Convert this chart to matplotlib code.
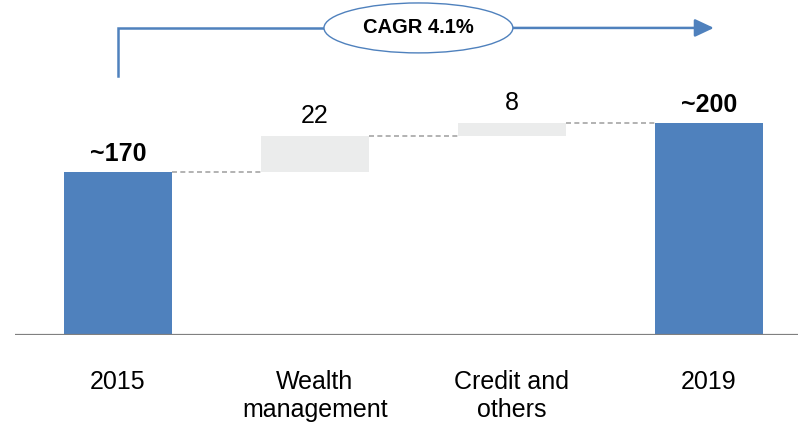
import matplotlib
matplotlib.use("Agg")
import matplotlib.pyplot as plt
from matplotlib.patches import Ellipse

plt.rcParams['font.family'] = ['Liberation Sans', 'DejaVu Sans']

categories = ["2015", "Wealth\nmanagement", "Credit and\nothers", "2019"]
values = [170, 22, 8, 200]
value_labels = ["~170", "22", "8", "~200"]
kinds = ["total", "delta", "delta", "total"]
cagr_label = "CAGR 4.1%"

BLUE = "#4F81BD"
GREY_BAR = "#EBECEC"
DASH = "#A6A6A6"

fig = plt.figure(figsize=(7.98, 4.26), dpi=100)
ax = fig.add_axes([15 / 798, (426 - 335) / 426, 783 / 798, 335 / 426])

y0 = 71
width = 0.55
x = list(range(len(categories)))

bottoms, heights, colors = [], [], []
running = 0
for v, k in zip(values, kinds):
    if k == "total":
        bottoms.append(y0)
        heights.append(v - y0)
        colors.append(BLUE)
        running = v
    else:
        bottoms.append(running)
        heights.append(v)
        colors.append(GREY_BAR)
        running += v

ax.bar(x, heights, bottom=bottoms, width=width, color=colors, zorder=2)

# connectors
for i in range(len(x) - 1):
    level = bottoms[i] + heights[i]
    ax.plot([x[i] + width / 2, x[i + 1] - width / 2], [level, level],
            color=DASH, lw=1.2, ls=(0, (3, 2)), zorder=1)

# value labels
for i, (lab, k) in enumerate(zip(value_labels, kinds)):
    top = bottoms[i] + heights[i]
    bold = k == "total"
    ax.annotate(lab, (x[i], top), xytext=(0, 8 if bold else 9.7),
                textcoords="offset points", ha="center", va="baseline",
                fontsize=18, fontweight="bold" if bold else "normal",
                color="black")

ax.axhline(y0, color="#808080", lw=1.6, zorder=3)

ax.set_xlim(-0.523, 3.452)
ax.set_ylim(y0, 274.9)
ax.set_xticks(x)
ax.set_xticklabels(categories, fontsize=18)
ax.tick_params(axis="x", length=0, pad=25)
for lbl in ax.get_xticklabels():
    lbl.set_linespacing(1.25)
ax.set_yticks([])
for s in ax.spines.values():
    s.set_visible(False)

# CAGR bracket
y_line = 257.9
y_start = 228.6
ell_cx, ell_w, ell_h = 1.525, 0.959, 30.4
ax.plot([0, 0, ell_cx - ell_w / 2], [y_start, y_line, y_line],
        color=BLUE, lw=1.8, solid_joinstyle="miter", zorder=4, clip_on=False)
ax.add_patch(Ellipse((ell_cx, y_line), ell_w, ell_h, facecolor="white",
                     edgecolor=BLUE, lw=1.0, zorder=5, clip_on=False))
ax.text(ell_cx, y_line, cagr_label, ha="center", va="center",
        fontsize=14.5, fontweight="bold", zorder=6)
ax.annotate("", xy=(3.025, y_line), xytext=(ell_cx + ell_w / 2, y_line),
            arrowprops=dict(arrowstyle="-|>,head_length=1.15,head_width=0.54",
                            mutation_scale=10, lw=1.8, color=BLUE,
                            shrinkA=0, shrinkB=0), zorder=4)

fig.savefig("out.png", dpi=100)
